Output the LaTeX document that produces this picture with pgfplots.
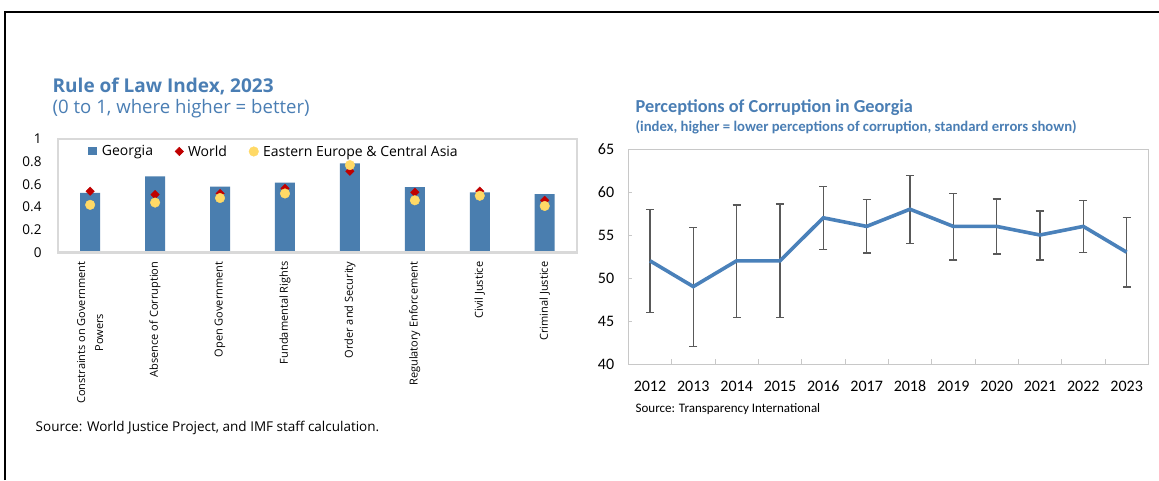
\documentclass[border=0pt]{standalone}
\usepackage{fontspec}
\setmainfont{Open Sans}
\newfontfamily\calib{Carlito}
\usepackage{pgfplots}
\pgfplotsset{compat=1.18}
\definecolor{ttl}{HTML}{4A7EB4}
\definecolor{barc}{HTML}{4A7EAF}
\definecolor{wred}{HTML}{C00000}
\definecolor{eyel}{HTML}{FFD966}
\definecolor{linec}{HTML}{4A81BA}
\definecolor{ebar}{HTML}{595959}
\definecolor{boxg}{HTML}{D9D9D9}
\definecolor{boxr}{HTML}{C8C8C8}
\pgfplotsset{
  barlegend/.style={legend image code/.code={\fill[barc] (0pt,-4pt) rectangle (9pt,4pt);}},
  marklegend/.style={legend image code/.code={\draw[##1] plot coordinates {(#1,0pt)};}},
}
\begin{document}
\begin{tikzpicture}
\useasboundingbox (0pt,0pt) rectangle (1159pt,480pt);
\fill[white] (0pt,0pt) rectangle (1159pt,480pt);
\draw[line width=2pt] (4.5pt,0pt) -- (4.5pt,468pt) -- (1159pt,468pt);

% ---------- Left chart ----------
\node[anchor=base west, inner sep=0pt, text=ttl, font=\bfseries\fontsize{19}{22}\selectfont] at (52.5pt,387pt) {Rule of Law Index, 2023};
\node[anchor=base west, inner sep=0pt, text=ttl, font=\fontsize{18.6}{21}\selectfont] at (52.5pt,366.7pt) {(0 to 1, where higher = better)};
\node[anchor=west, inner sep=0pt, font=\fontsize{13.5}{16}\selectfont] at (35.5pt,52pt) {Source: World Justice Project, and IMF staff calculation.};

\begin{axis}[
  at={(57.7pt,227.5pt)}, anchor=south west, scale only axis,
  width=519.5pt, height=113.5pt,
  xmin=-0.5, xmax=7.5, ymin=0, ymax=1,
  axis on top,
  axis line style={boxg, line width=2.4pt},
  xtick={0,...,7},
  xticklabels={{Constraints on Government\\Powers}, Absence of Corruption, Open Government, Fundamental Rights, Order and Security, Regulatory Enforcement, Civil Justice, Criminal Justice},
  xticklabel style={yshift=-9pt, rotate=90, anchor=east, align=center, font=\fontsize{11}{18}\selectfont, inner sep=0pt},
  ytick={0,0.2,0.4,0.6,0.8,1},
  yticklabels={0,0.2,0.4,0.6,0.8,1},
  yticklabel style={font=\fontsize{13.5}{15}\selectfont, inner sep=0pt, xshift=-16pt},
  major tick length=0pt,
  legend columns=3,
  legend style={draw=none, fill=none, at={(0.0588,0.89)}, anchor=west, inner sep=0pt,
    font=\fontsize{14}{16}\selectfont,
    nodes={inner sep=0pt},
    /tikz/every odd column/.append style={column sep=4.5pt},
    /tikz/every even column/.append style={column sep=22pt}},
]
\addplot[ybar, bar width=20pt, fill=barc, draw=none, barlegend]
  coordinates {(0,0.525) (1,0.67) (2,0.58) (3,0.615) (4,0.785) (5,0.575) (6,0.53) (7,0.515)};
\addlegendentry{Georgia}
\addplot[only marks, mark=square*, mark size=3pt, color=wred, mark options={rotate=45, fill=wred, draw=wred}, marklegend=4pt]
  coordinates {(0,0.54) (1,0.51) (2,0.52) (3,0.565) (4,0.716) (5,0.53) (6,0.54) (7,0.46)};
\addlegendentry{World}
\addplot[only marks, mark=*, mark size=4.8pt, color=eyel, mark options={draw=none, fill=eyel}, marklegend=4.5pt]
  coordinates {(0,0.42) (1,0.44) (2,0.48) (3,0.52) (4,0.77) (5,0.46) (6,0.50) (7,0.41)};
\addlegendentry{Eastern Europe \& Central Asia}
\end{axis}

% ---------- Right chart ----------
\node[anchor=base west, inner sep=0pt, text=ttl, font=\calib\bfseries\fontsize{18.3}{21}\selectfont] at (635.4pt,367pt) {Perceptions of Corruption in Georgia};
\node[anchor=base west, inner sep=0pt, text=ttl, font=\calib\bfseries\fontsize{14.7}{17}\selectfont] at (635.4pt,348pt) {(index, higher = lower perceptions of corruption, standard errors shown)};
\node[anchor=west, inner sep=0pt, font=\calib\fontsize{13}{15}\selectfont] at (635.4pt,71pt) {Source: Transparency International};

\begin{axis}[
  at={(628.3pt,116pt)}, anchor=south west, scale only axis,
  width=520pt, height=215pt,
  xmin=-0.5, xmax=11.5, ymin=40, ymax=65,
  axis line style={boxr, line width=0.9pt},
  xtick={0,...,11},
  xticklabels={2012,2013,2014,2015,2016,2017,2018,2019,2020,2021,2022,2023},
  minor xtick={0.5,1.5,...,10.5},
  ytick={40,45,...,65},
  yticklabels={40,45,50,55,60,65},
  tick align=inside,
  xtick pos=bottom, ytick pos=left,
  major tick length=4pt, minor tick length=5pt,
  major x tick style={draw=none},
  tick style={boxr, line width=0.9pt},
  xticklabel style={font=\calib\fontsize{16}{18}\selectfont, inner sep=0pt, yshift=-16.5pt},
  yticklabel style={font=\calib\fontsize{16}{18}\selectfont, inner sep=0pt, xshift=-14pt},
]
\addplot[draw=none, forget plot,
  error bars/.cd, y dir=both, y explicit,
  error bar style={draw=ebar, line width=1.3pt},
  error mark options={draw=ebar, rotate=90, line width=1.3pt, mark size=4pt}]
  table[x=x, y=y, y error plus=ep, y error minus=em] {
x y ep em
0 52 6.0 6.0
1 49 6.9 7.0
2 52 6.5 6.6
3 52 6.6 6.6
4 57 3.6 3.7
5 56 3.1 3.1
6 58 3.9 4.0
7 56 3.8 3.9
8 56 3.2 3.2
9 55 2.8 2.9
10 56 3.0 3.0
11 53 4.0 4.05
};
\addplot[linec, line width=3.6pt, mark=none, line join=miter] table[x=x, y=y] {
x y
0 52
1 49
2 52
3 52
4 57
5 56
6 58
7 56
8 56
9 55
10 56
11 53
};
\end{axis}
\end{tikzpicture}
\end{document}
